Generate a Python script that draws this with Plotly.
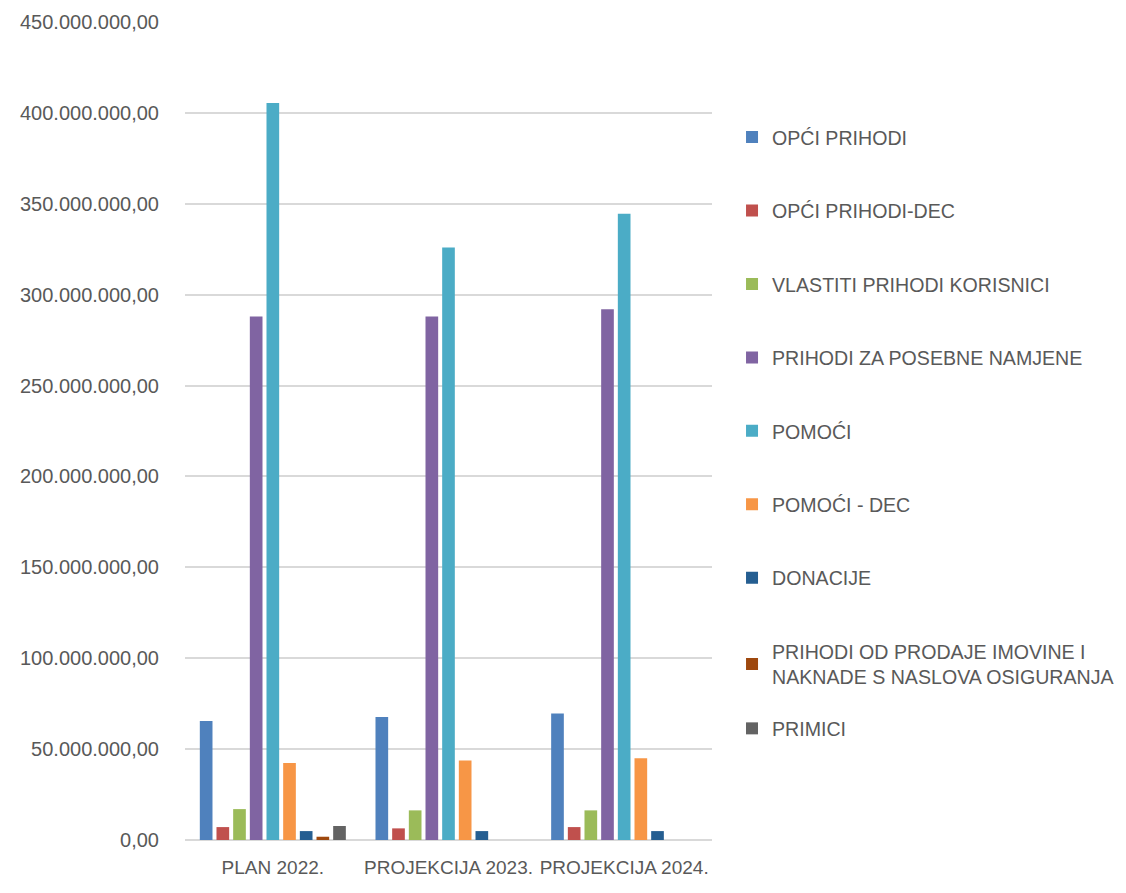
import plotly.graph_objects as go

categories = ["PLAN 2022.", "PROJEKCIJA 2023.", "PROJEKCIJA 2024."]
series_names = [
    "OPĆI PRIHODI",
    "OPĆI PRIHODI-DEC",
    "VLASTITI PRIHODI KORISNICI",
    "PRIHODI ZA POSEBNE NAMJENE",
    "POMOĆI",
    "POMOĆI - DEC",
    "DONACIJE",
    "PRIHODI OD PRODAJE IMOVINE I<br>NAKNADE S NASLOVA OSIGURANJA",
    "PRIMICI",
]
opci_prihodi = [65400000, 67600000, 69600000]
opci_prihodi_dec = [7100000, 6400000, 7100000]
vlastiti_prihodi = [17000000, 16300000, 16300000]
prihodi_posebne = [288000000, 288000000, 292000000]
pomoci = [405500000, 326000000, 344500000]
pomoci_dec = [42300000, 43800000, 45000000]
donacije = [4900000, 4900000, 4900000]
prodaja_imovine = [1800000, 0, 0]
primici = [7700000, 0, 0]

series_values = [opci_prihodi, opci_prihodi_dec, vlastiti_prihodi, prihodi_posebne,
                 pomoci, pomoci_dec, donacije, prodaja_imovine, primici]
colors = ["#4F81BD", "#C0504D", "#9BBB59", "#8064A2", "#4BACC6",
          "#F79646", "#255E91", "#9E480E", "#636363"]

fig = go.Figure()
n = len(series_names)
for i, (name, vals, col) in enumerate(zip(series_names, series_values, colors)):
    fig.add_trace(go.Bar(x=categories, y=vals, name=name, marker_color=col,
                         marker_line_width=0, legendgroup=f"g{i}",
                         legend="legend2" if i == n - 1 else "legend"))

font_color = "#595959"
fs = 20
fig.update_layout(
    width=1126, height=893,
    margin=dict(l=177, r=422, t=14, b=61, autoexpand=False),
    paper_bgcolor="white", plot_bgcolor="white",
    barmode="group", bargap=0.146, bargroupgap=0.24,
    separators=",.",
    font=dict(family="Liberation Sans, Arial, sans-serif", size=fs, color=font_color),
    showlegend=True,
    legend=dict(x=1.038, y=0.883, xanchor="left", yanchor="top",
                traceorder="grouped", tracegroupgap=45,
                font=dict(size=19.6, color=font_color), itemwidth=30),
    legend2=dict(x=1.038, y=0.16, xanchor="left", yanchor="top",
                 font=dict(size=19.6, color=font_color), itemwidth=30),
    xaxis=dict(showgrid=False, showline=False, ticks="", ticklabelstandoff=14,
               tickangle=0, automargin=False,
               tickfont=dict(size=19, color=font_color)),
    yaxis=dict(range=[0, 450000000], dtick=50000000, tickformat=",.2f",
               showgrid=True, gridcolor="#D9D9D9", gridwidth=1.5,
               zeroline=True, zerolinecolor="#D9D9D9", zerolinewidth=1.5,
               showline=False, ticks="", ticklabelstandoff=25, automargin=False,
               tickfont=dict(size=fs, color=font_color)),
)

fig.write_html("out.html")
